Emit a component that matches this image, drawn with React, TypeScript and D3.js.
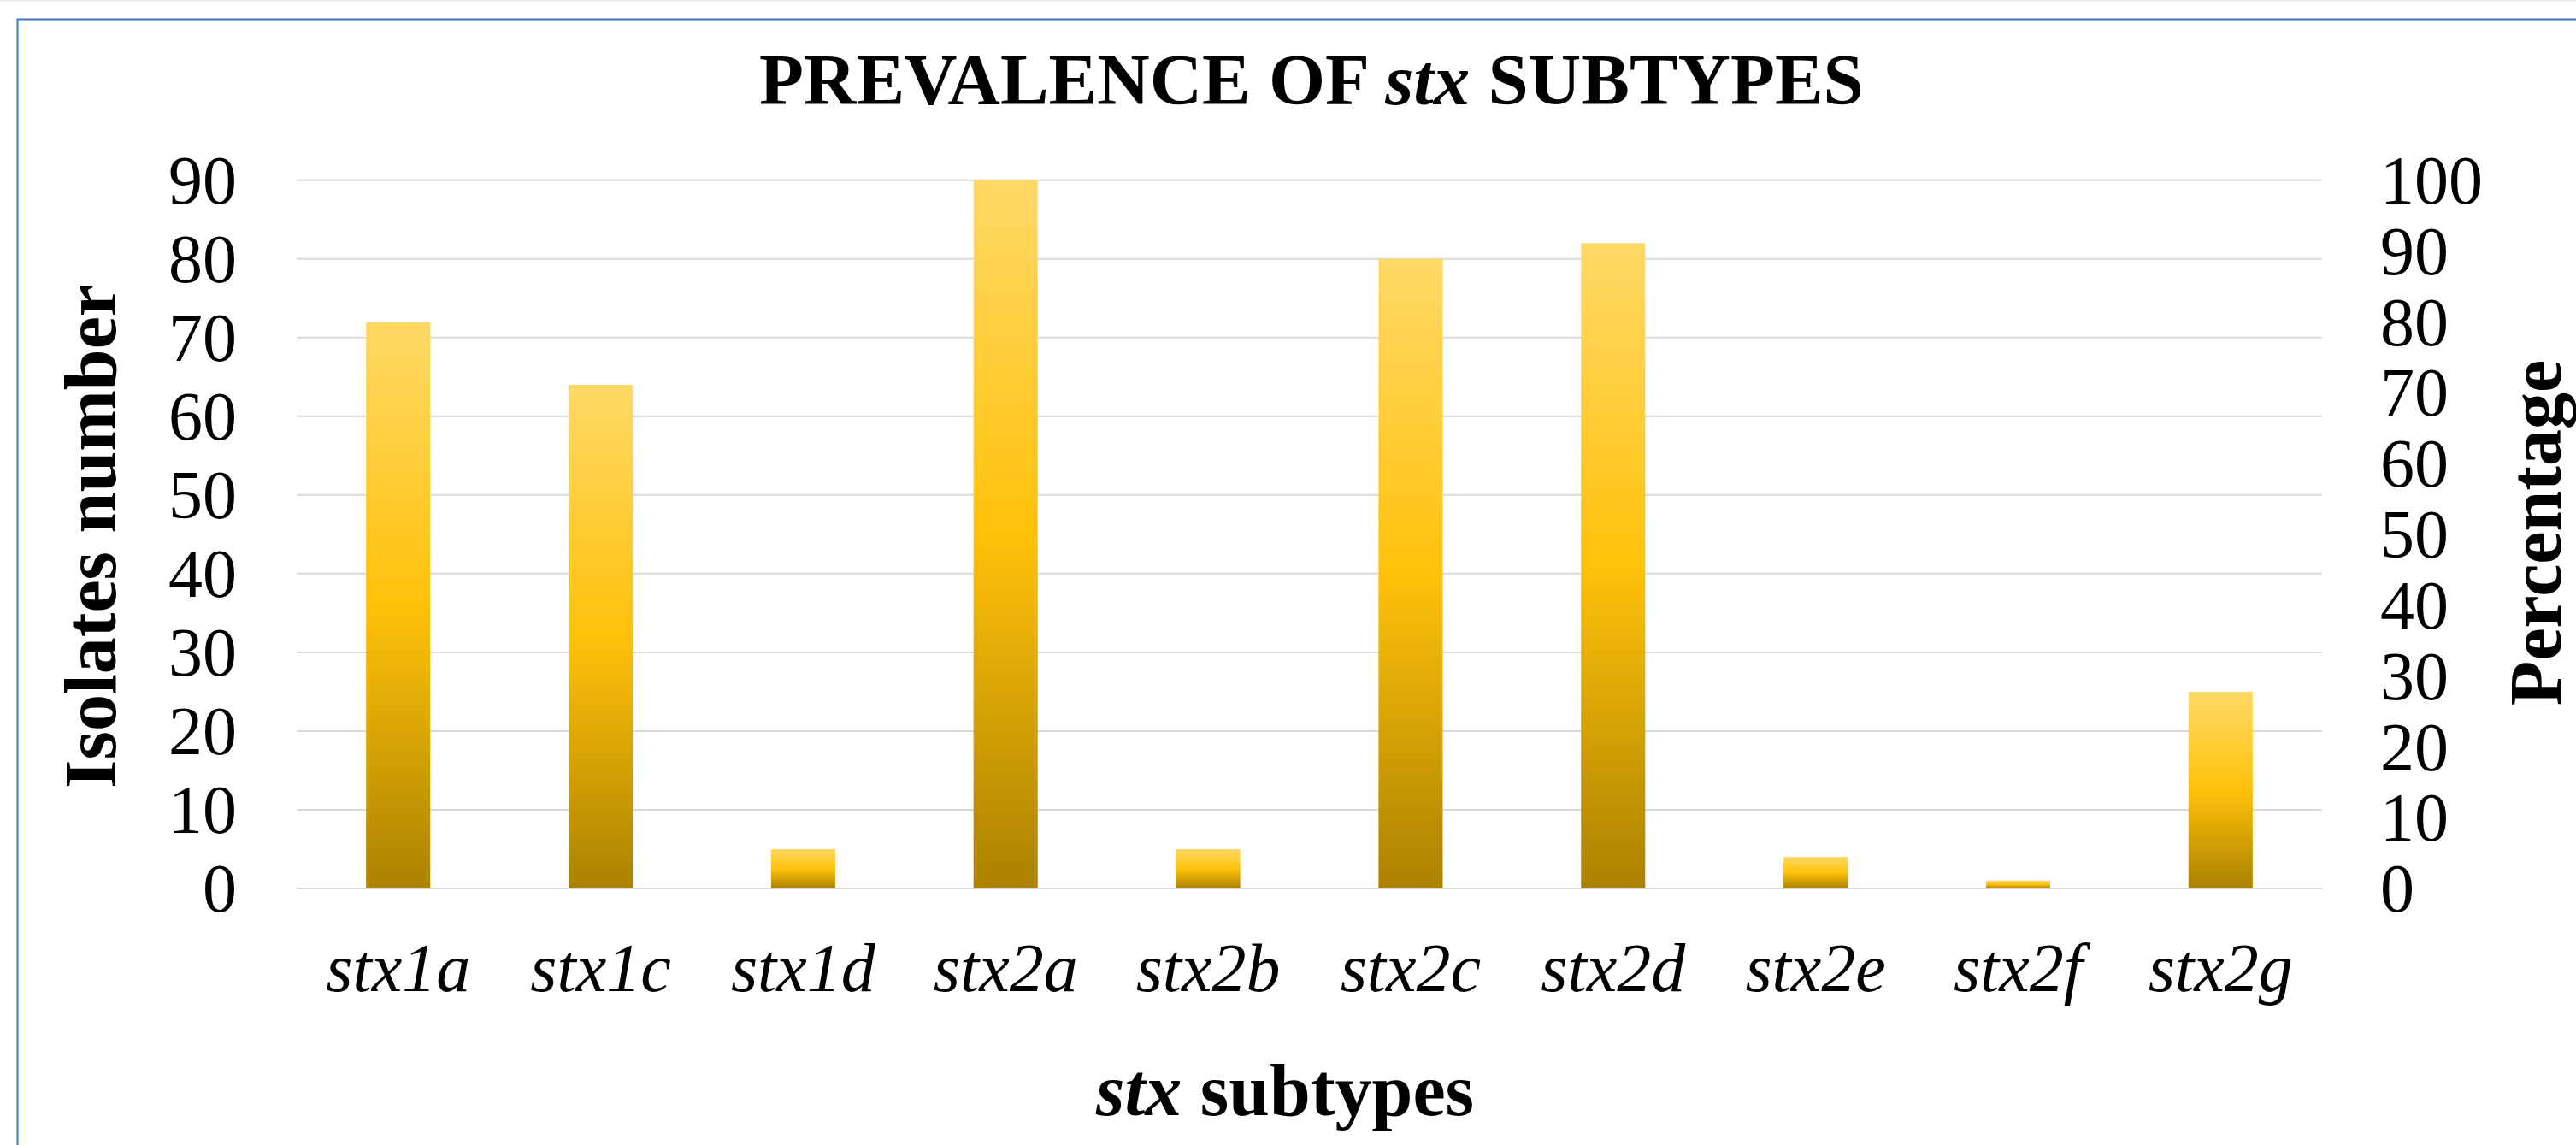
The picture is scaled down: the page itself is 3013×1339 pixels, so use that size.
import React from "react";
import * as d3 from "d3";

const categories = ["stx1a", "stx1c", "stx1d", "stx2a", "stx2b", "stx2c", "stx2d", "stx2e", "stx2f", "stx2g"];
const isolates = [72, 64, 5, 90, 5, 80, 82, 4, 1, 25];
const leftTicks = [0, 10, 20, 30, 40, 50, 60, 70, 80, 90];
const rightTicks = [0, 10, 20, 30, 40, 50, 60, 70, 80, 90, 100];

const W = 3013;
const H = 1339;
const plot = { left: 347.3, right: 2715.7, top: 210.7, bottom: 1039 };
const serif = "'Liberation Serif', 'Times New Roman', Times, serif";

const App: React.FC = () => {
  const x = d3
    .scaleBand<string>()
    .domain(categories)
    .range([plot.left, plot.right])
    .paddingInner(0.683)
    .paddingOuter(0.3415);

  const yLeft = d3.scaleLinear().domain([0, 90]).range([plot.bottom, plot.top]);
  const yRight = d3.scaleLinear().domain([0, 100]).range([plot.bottom, plot.top]);

  return (
    <svg
      width={W}
      height={H}
      viewBox={`0 0 ${W} ${H}`}
      style={{ position: "absolute", left: 0, top: 0, background: "#fff" }}
      fontFamily={serif}
    >
      <defs>
        <linearGradient id="bar-gold" x1="0" y1="0" x2="0" y2="1">
          <stop offset="0%" stopColor="#FFD966" />
          <stop offset="50%" stopColor="#FFC20A" />
          <stop offset="100%" stopColor="#AB8200" />
        </linearGradient>
      </defs>

      {/* faint page edge + chart frame */}
      <line x1={0} x2={W} y1={1} y2={1} stroke="#EEF1F6" strokeWidth={2} />
      <path d={`M20.5,${H} V22.5 H${W}`} fill="none" stroke="#4472C4" strokeWidth={2} />

      {/* title */}
      <text x={1534} y={122} textAnchor="middle" fontSize={85} fontWeight="bold">
        PREVALENCE OF <tspan fontStyle="italic">stx</tspan> SUBTYPES
      </text>

      {/* grid */}
      {leftTicks.map((t) => (
        <line
          key={`g${t}`}
          x1={plot.left}
          x2={plot.right}
          y1={yLeft(t)}
          y2={yLeft(t)}
          stroke="#D9D9D9"
          strokeWidth={2}
        />
      ))}

      {/* bars */}
      {categories.map((c, i) => (
        <rect
          key={c}
          x={x(c)}
          y={yLeft(isolates[i])}
          width={x.bandwidth()}
          height={plot.bottom - yLeft(isolates[i])}
          fill="url(#bar-gold)"
        />
      ))}

      {/* left axis labels */}
      {leftTicks.map((t) => (
        <text key={`l${t}`} x={277} y={yLeft(t)} dy="0.34em" textAnchor="end" fontSize={80}>
          {t}
        </text>
      ))}

      {/* right axis labels */}
      {rightTicks.map((t) => (
        <text key={`r${t}`} x={2784} y={yRight(t)} dy="0.34em" textAnchor="start" fontSize={80}>
          {t}
        </text>
      ))}

      {/* category labels */}
      {categories.map((c) => (
        <text
          key={`c${c}`}
          x={(x(c) ?? 0) + x.bandwidth() / 2}
          y={1159}
          textAnchor="middle"
          fontSize={80}
          fontStyle="italic"
        >
          {c}
        </text>
      ))}

      {/* axis titles */}
      <text x={1503} y={1304} textAnchor="middle" fontSize={86} fontWeight="bold">
        <tspan fontStyle="italic">stx</tspan> subtypes
      </text>
      <text
        transform="translate(135,627) rotate(-90)"
        textAnchor="middle"
        fontSize={86}
        fontWeight="bold"
      >
        Isolates number
      </text>
      <text
        transform="translate(2995,623) rotate(-90)"
        textAnchor="middle"
        fontSize={86}
        fontWeight="bold"
      >
        Percentage
      </text>
    </svg>
  );
};

export default App;
